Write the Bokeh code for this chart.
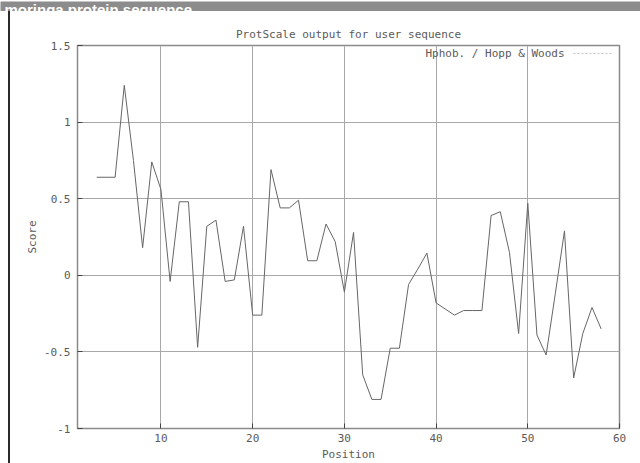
from bokeh.plotting import figure
from bokeh.layouts import column, row
from bokeh.models import Label, Arrow, FixedTicker, Range1d, Spacer
from bokeh.embed import file_html
from bokeh.resources import INLINE

# ---- data ----
positions = list(range(3, 59))
scores = [0.64, 0.64, 0.64, 1.24, 0.75, 0.18, 0.74, 0.56, -0.04, 0.48,
          0.48, -0.47, 0.32, 0.36, -0.04, -0.03, 0.32, -0.26, -0.26, 0.69,
          0.44, 0.44, 0.49, 0.095, 0.095, 0.335, 0.22, -0.11, 0.28, -0.65,
          -0.81, -0.81, -0.476, -0.476, -0.06, 0.04, 0.145, -0.18, -0.22, -0.26,
          -0.23, -0.23, -0.23, 0.39, 0.415, 0.15, -0.38, 0.47, -0.39, -0.52,
          -0.12, 0.29, -0.67, -0.38, -0.21, -0.35]
x_ticks = [10, 20, 30, 40, 50, 60]
y_ticks = [-1, -0.5, 0, 0.5, 1, 1.5]
y_tick_labels = ["-1", "-0.5", "0", "0.5", "1", "1.5"]

header_text = "moringa protein sequence"
title_text = "ProtScale output for user sequence"
legend_text = "Hphob. / Hopp & Woods"
x_label = "Position"
y_label = "Score"

MONO = "DejaVu Sans Mono"
TXT = "#5a5a5a"
FS = "11px"

# ---- header bar ----
header = figure(width=640, height=11, output_backend="svg", toolbar_location=None,
                min_border=0, x_axis_type=None, y_axis_type=None, title=None,
                x_range=(0, 640), y_range=(0, 11))
header.background_fill_color = "#8c8c8c"
header.border_fill_color = "#8c8c8c"
header.outline_line_color = None
header.add_layout(Label(x=4, y=3, x_units="screen", y_units="screen", text=header_text,
                        text_color="white", text_font="Liberation Sans",
                        text_font_style="bold", text_font_size="15px",
                        text_baseline="alphabetic"))

# ---- left frame line of the panel ----
gap = Spacer(width=8, height=452)
edge = Spacer(width=2, height=452, styles={"background-color": "#2a2a2a"})

# ---- main plot ----
p = figure(width=630, height=452, output_backend="svg", toolbar_location=None,
           x_range=Range1d(0.9, 60), y_range=Range1d(-1, 1.5),
           min_border_left=67, min_border_right=21, min_border_top=34, min_border_bottom=35,
           title=title_text, x_axis_label=x_label, y_axis_label=y_label)
p.title.align = "center"
p.title.text_font = MONO
p.title.text_font_size = FS
p.title.text_font_style = "normal"
p.title.text_color = TXT

p.line(positions, scores, line_color="#666666", line_width=1)

p.outline_line_color = "#8a8a8a"
p.outline_line_width = 1.5

for ax in (p.xaxis[0], p.yaxis[0]):
    ax.major_tick_in = 5
    ax.major_tick_out = 0
    ax.minor_tick_line_color = None
    ax.major_tick_line_color = "#444444"
    ax.axis_line_color = "#8a8a8a"
    ax.major_label_text_font = MONO
    ax.major_label_text_font_size = FS
    ax.major_label_text_color = TXT
    ax.axis_label_text_font = MONO
    ax.axis_label_text_font_size = FS
    ax.axis_label_text_font_style = "normal"
    ax.axis_label_text_color = TXT

p.xaxis.ticker = FixedTicker(ticks=x_ticks)
p.yaxis.ticker = FixedTicker(ticks=y_ticks)
p.yaxis.major_label_overrides = {float(t): l for t, l in zip(y_ticks, y_tick_labels)}
p.xaxis.major_label_standoff = 5
p.xaxis.axis_label_standoff = 3
p.yaxis.major_label_standoff = 7
p.yaxis.axis_label_standoff = 2

p.xgrid.grid_line_color = "#a8a8a8"
p.ygrid.grid_line_color = "#a8a8a8"
p.xgrid.grid_line_width = 1
p.ygrid.grid_line_width = 1

p.add_layout(Label(x=348, y=375, x_units="screen", y_units="screen", text=legend_text,
                   text_font=MONO, text_font_size=FS, text_color=TXT,
                   text_align="left", text_baseline="middle"))
p.add_layout(Arrow(x_start=496, y_start=375, x_end=536, y_end=375,
                   start_units="screen", end_units="screen", end=None,
                   line_color="#c4c4c4", line_dash="2 2", line_width=1))

layout = column(header, row(gap, edge, p))
open("out.html", "w").write(file_html(layout, INLINE))
